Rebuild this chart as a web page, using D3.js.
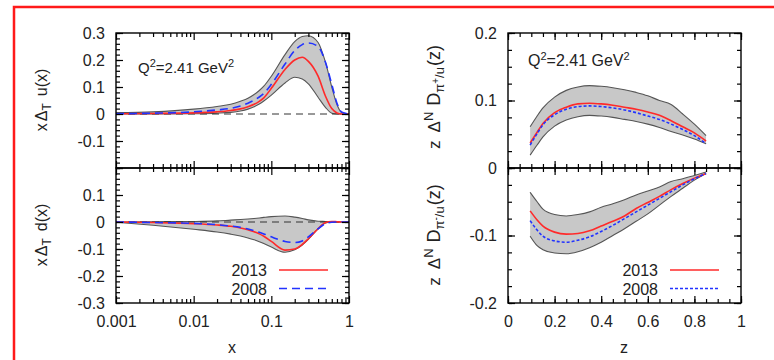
<html>
<head>
  <meta charset="utf-8">
  <script src="https://d3js.org/d3.v7.min.js"></script>
  <style>
    body { margin: 0; background: #fff; }
    text { font-family: "Liberation Sans", Arial, sans-serif; fill: #222; }
    .axis path { display: none; }
    .axis line { stroke: #000; stroke-width: 1.2; }
    .axis text { font-size: 16px; fill: #222; font-family: "Liberation Sans", Arial, sans-serif; }
  </style>
</head>
<body>
<script>
// ---- data ----
var xGrid = [0.001, 0.003, 0.01, 0.02, 0.03, 0.04, 0.05, 0.06, 0.07, 0.08, 0.1, 0.15, 0.2, 0.25, 0.3, 0.4, 0.5, 0.6, 0.7, 0.8, 1];

var uRed   = [0.001, 0.002, 0.004, 0.008, 0.013, 0.019, 0.027, 0.036, 0.047, 0.06, 0.095, 0.165, 0.2, 0.21, 0.195, 0.14, 0.065, 0.02, 0.004, 0, 0];
var uBlue  = [0.001, 0.003, 0.008, 0.015, 0.021, 0.03, 0.04, 0.051, 0.063, 0.076, 0.11, 0.185, 0.235, 0.257, 0.263, 0.25, 0.19, 0.11, 0.04, 0.008, 0];
var uHigh  = [0.005, 0.008, 0.018, 0.028, 0.036, 0.047, 0.058, 0.072, 0.087, 0.103, 0.14, 0.22, 0.268, 0.287, 0.29, 0.265, 0.19, 0.1, 0.035, 0.006, 0];
var uLow   = [0, 0, 0.001, 0.003, 0.006, 0.011, 0.018, 0.027, 0.037, 0.048, 0.07, 0.115, 0.136, 0.13, 0.112, 0.062, 0.024, 0.003, 0, 0, 0];

var dRed   = [0, -0.002, -0.006, -0.011, -0.016, -0.022, -0.029, -0.036, -0.044, -0.053, -0.072, -0.104, -0.1, -0.083, -0.062, -0.025, -0.002, 0.002, 0.001, 0, 0];
var dBlue  = [0, -0.002, -0.005, -0.01, -0.015, -0.02, -0.026, -0.032, -0.038, -0.044, -0.055, -0.072, -0.076, -0.07, -0.055, -0.025, -0.006, -0.001, 0, 0, 0];
var dHigh  = [0, 0.001, 0.002, 0.004, 0.007, 0.009, 0.011, 0.013, 0.015, 0.017, 0.02, 0.022, 0.018, 0.013, 0.008, 0.003, 0.002, 0.001, 0, 0, 0];
var dLow   = [-0.001, -0.012, -0.027, -0.037, -0.045, -0.052, -0.059, -0.066, -0.073, -0.08, -0.093, -0.112, -0.103, -0.085, -0.064, -0.025, -0.004, 0, 0, 0, 0];

var zGrid = [0.095, 0.125, 0.15, 0.2, 0.25, 0.3, 0.35, 0.4, 0.45, 0.5, 0.55, 0.6, 0.65, 0.7, 0.75, 0.8, 0.85];

var plusRed  = [0.037, 0.053, 0.066, 0.082, 0.09, 0.095, 0.096, 0.095, 0.093, 0.09, 0.087, 0.083, 0.078, 0.07, 0.061, 0.052, 0.04];
var plusBlue = [0.034, 0.051, 0.064, 0.079, 0.087, 0.091, 0.092, 0.091, 0.089, 0.086, 0.082, 0.077, 0.072, 0.065, 0.057, 0.048, 0.036];
var plusHigh = [0.061, 0.077, 0.089, 0.105, 0.115, 0.12, 0.122, 0.121, 0.119, 0.116, 0.112, 0.107, 0.1, 0.094, 0.08, 0.065, 0.048];
var plusLow  = [0.019, 0.034, 0.046, 0.062, 0.071, 0.076, 0.078, 0.077, 0.075, 0.072, 0.069, 0.065, 0.06, 0.054, 0.049, 0.043, 0.036];

var minRed  = [-0.0635, -0.077, -0.086, -0.095, -0.098, -0.097, -0.093, -0.086, -0.079, -0.071, -0.06, -0.051, -0.042, -0.032, -0.023, -0.015, -0.008];
var minBlue = [-0.078, -0.092, -0.101, -0.108, -0.11, -0.107, -0.102, -0.094, -0.085, -0.075, -0.065, -0.055, -0.045, -0.035, -0.025, -0.016, -0.008];
var minHigh = [-0.036, -0.05, -0.061, -0.069, -0.071, -0.069, -0.065, -0.058, -0.053, -0.047, -0.04, -0.034, -0.028, -0.02, -0.016, -0.011, -0.006];
var minLow  = [-0.101, -0.115, -0.121, -0.126, -0.127, -0.124, -0.118, -0.11, -0.1, -0.09, -0.079, -0.068, -0.055, -0.042, -0.03, -0.018, -0.008];

var xTicks = [0.001, 0.01, 0.1, 1];
var zTicks = [0, 0.2, 0.4, 0.6, 0.8, 1];
var legendNames = ["2013", "2008"];

// ---- layout ----
var width = 774, height = 360;
var top0 = 33, mid = 168, bot = 303;

var svg = d3.select("body").append("svg")
  .attr("width", width)
  .attr("height", height);

// red frame around the figure
svg.append("path")
  .attr("d", "M14,360 L14,7 L774,7")
  .attr("fill", "none")
  .attr("stroke", "#ff1a1a")
  .attr("stroke-width", 2.5);

var xLog = d3.scaleLog().domain([0.001, 1]).range([116, 349]);
var xLin = d3.scaleLinear().domain([0, 1]).range([508, 741]);

var yUL = d3.scaleLinear().domain([-0.2, 0.3]).range([mid, top0]);
var yDL = d3.scaleLinear().domain([-0.3, 0.2]).range([bot, mid]);
var yUR = d3.scaleLinear().domain([0, 0.2]).range([mid, top0]);
var yDR = d3.scaleLinear().domain([-0.2, 0]).range([bot, mid]);

var logMinor = [];
[0.001, 0.01, 0.1].forEach(function(d){
  for (var k = 2; k <= 9; k++) logMinor.push(d * k);
});

function range(a, b, s){
  var out = [];
  for (var v = a; v <= b + 1e-9; v += s) out.push(Math.round(v * 1000) / 1000);
  return out;
}

// plain ascii minus like the original
function fmt(shown){
  return function(d){
    if (shown.indexOf(d) < 0) return "";
    return String(+d.toFixed(3));
  };
}

function drawPanel(x, y, xs, hi, lo, red, blue, o){
  var g = svg.append("g");
  var x0 = x.range()[0], x1 = x.range()[1];
  var yt = y.range()[1], yb = y.range()[0];

  var clipId = "c" + Math.round(x0) + "_" + Math.round(yt);
  g.append("clipPath").attr("id", clipId)
    .append("rect").attr("x", x0).attr("y", yt).attr("width", x1 - x0).attr("height", yb - yt);

  var plot = g.append("g").attr("clip-path", "url(#" + clipId + ")");

  var area = d3.area()
    .x(function(d, i){ return x(xs[i]); })
    .y0(function(d, i){ return y(lo[i]); })
    .y1(function(d, i){ return y(hi[i]); })
    .curve(d3.curveMonotoneX);

  var line = function(vals){
    return d3.line()
      .x(function(d, i){ return x(xs[i]); })
      .y(function(d){ return y(d); })
      .curve(d3.curveMonotoneX)(vals);
  };

  plot.append("path").attr("d", area(hi)).attr("fill", "#c8c8c8");
  plot.append("path").attr("d", line(hi)).attr("fill", "none").attr("stroke", "#555").attr("stroke-width", 1.1);
  plot.append("path").attr("d", line(lo)).attr("fill", "none").attr("stroke", "#555").attr("stroke-width", 1.1);

  if (o.zero) {
    plot.append("line")
      .attr("x1", x0).attr("x2", x1)
      .attr("y1", y(0)).attr("y2", y(0))
      .attr("stroke", "#333").attr("stroke-width", 1)
      .attr("stroke-dasharray", "7,5");
  }

  plot.append("path").attr("d", line(red)).attr("fill", "none")
    .attr("stroke", "#ff2a2a").attr("stroke-width", 1.6);
  plot.append("path").attr("d", line(blue)).attr("fill", "none")
    .attr("stroke", "#2233ff").attr("stroke-width", 1.6)
    .attr("stroke-dasharray", o.dash);

  // frame
  g.append("rect")
    .attr("x", x0).attr("y", yt)
    .attr("width", x1 - x0).attr("height", yb - yt)
    .attr("fill", "none").attr("stroke", "#000").attr("stroke-width", 1.4);

  // y ticks (inward, mirrored)
  g.append("g").attr("class", "axis")
    .attr("transform", "translate(" + x0 + ",0)")
    .call(d3.axisLeft(y).tickValues(o.yMajor).tickSize(-7).tickPadding(11).tickFormat(fmt(o.yShown)));
  g.append("g").attr("class", "axis")
    .attr("transform", "translate(" + x0 + ",0)")
    .call(d3.axisLeft(y).tickValues(o.yMinor).tickSize(-4).tickFormat(""));
  g.append("g").attr("class", "axis")
    .attr("transform", "translate(" + x1 + ",0)")
    .call(d3.axisRight(y).tickValues(o.yMajor).tickSize(-7).tickFormat(""));
  g.append("g").attr("class", "axis")
    .attr("transform", "translate(" + x1 + ",0)")
    .call(d3.axisRight(y).tickValues(o.yMinor).tickSize(-4).tickFormat(""));

  // x ticks top and bottom
  g.append("g").attr("class", "axis")
    .attr("transform", "translate(0," + yt + ")")
    .call(d3.axisTop(x).tickValues(o.xMajor).tickSize(-7).tickFormat(""));
  g.append("g").attr("class", "axis")
    .attr("transform", "translate(0," + yt + ")")
    .call(d3.axisTop(x).tickValues(o.xMinor).tickSize(-4).tickFormat(""));
  g.append("g").attr("class", "axis")
    .attr("transform", "translate(0," + yb + ")")
    .call(d3.axisBottom(x).tickValues(o.xMajor).tickSize(-7).tickPadding(13)
      .tickFormat(fmt(o.xLabels ? o.xMajor : [])));
  g.append("g").attr("class", "axis")
    .attr("transform", "translate(0," + yb + ")")
    .call(d3.axisBottom(x).tickValues(o.xMinor).tickSize(-4).tickFormat(""));

  return g;
}

function legend(x1, yPos, dash){
  var rows = [{ c: "#ff2a2a", d: null }, { c: "#2233ff", d: dash }];
  rows.forEach(function(r, i){
    var yy = yPos + i * 18.5;
    svg.append("text")
      .attr("x", x1).attr("y", yy + 6)
      .attr("text-anchor", "end")
      .style("font-size", "16px")
      .text(legendNames[i]);
    svg.append("line")
      .attr("x1", x1 + 12).attr("x2", x1 + 61)
      .attr("y1", yy).attr("y2", yy)
      .attr("stroke", r.c).attr("stroke-width", 1.6)
      .attr("stroke-dasharray", r.d);
  });
}

function qLabel(x, y, size){
  var t = svg.append("text").attr("x", x).attr("y", y).style("font-size", size + "px");
  t.append("tspan").text("Q");
  t.append("tspan").attr("dy", -6).style("font-size", "11px").text("2");
  t.append("tspan").attr("dy", 6).text("=2.41 GeV");
  t.append("tspan").attr("dy", -6).style("font-size", "11px").text("2");
}

// left column
drawPanel(xLog, yUL, xGrid, uHigh, uLow, uRed, uBlue, {
  zero: true, dash: "8,5",
  yMajor: [-0.2, -0.1, 0, 0.1, 0.2, 0.3], yMinor: range(-0.2, 0.3, 0.02), yShown: [-0.1, 0, 0.1, 0.2, 0.3],
  xMajor: xTicks, xMinor: logMinor, xLabels: false
});
drawPanel(xLog, yDL, xGrid, dHigh, dLow, dRed, dBlue, {
  zero: true, dash: "8,5",
  yMajor: [-0.3, -0.2, -0.1, 0, 0.1, 0.2], yMinor: range(-0.3, 0.2, 0.02), yShown: [-0.3, -0.2, -0.1, 0, 0.1],
  xMajor: xTicks, xMinor: logMinor, xLabels: true
});
// right column
drawPanel(xLin, yUR, zGrid, plusHigh, plusLow, plusRed, plusBlue, {
  zero: false, dash: "3,2",
  yMajor: [0, 0.1, 0.2], yMinor: range(0, 0.2, 0.025), yShown: [0, 0.1, 0.2],
  xMajor: zTicks, xMinor: range(0, 1, 0.05), xLabels: false
});
drawPanel(xLin, yDR, zGrid, minHigh, minLow, minRed, minBlue, {
  zero: false, dash: "3,2",
  yMajor: [-0.2, -0.1, 0], yMinor: range(-0.2, 0, 0.025), yShown: [-0.2, -0.1],
  xMajor: zTicks, xMinor: range(0, 1, 0.05), xLabels: true
});

legend(267, 270, "8,5");
legend(658, 270, "3,2");

qLabel(138, 73, 15);
qLabel(528, 66, 16);

// axis titles
svg.append("text").attr("x", 232).attr("y", 353).attr("text-anchor", "middle").style("font-size", "16px").text("x");
svg.append("text").attr("x", 624).attr("y", 353).attr("text-anchor", "middle").style("font-size", "16px").text("z");

// parts: [text, dy, font size, dx]
function yTitle(x, y, parts){
  var t = svg.append("text")
    .attr("transform", "translate(" + x + "," + y + ") rotate(-90)")
    .attr("text-anchor", "middle")
    .style("font-size", "16px");
  parts.forEach(function(p){
    t.append("tspan").attr("dy", p[1]).attr("dx", p[3] || 0).style("font-size", p[2] || "16px").text(p[0]);
  });
}

yTitle(47, 100, [["x", 0], ["\u0394", 0, "16px", 2], ["T", 4, "12px"], ["u(x)", -4, "16px", 7]]);
yTitle(47, 235, [["x", 0], ["\u0394", 0, "16px", 2], ["T", 4, "12px"], ["d(x)", -4, "16px", 7]]);
yTitle(440, 97, [["z", 0, "17px"], ["\u0394", 0, "17px", 8], ["N", -7, "13px"], ["D", 7, "18px", 6], ["\u03c0", 4, "13px"], ["+", -5, "10px"], ["/u", 5, "13px"], ["(z)", -4, "18px", 1]]);
yTitle(440, 235, [["z", 0, "17px"], ["\u0394", 0, "17px", 8], ["N", -7, "13px"], ["D", 7, "18px", 6], ["\u03c0", 4, "13px"], ["-", -5, "10px"], ["/u", 5, "13px"], ["(z)", -4, "18px", 1]]);
</script>
</body>
</html>
